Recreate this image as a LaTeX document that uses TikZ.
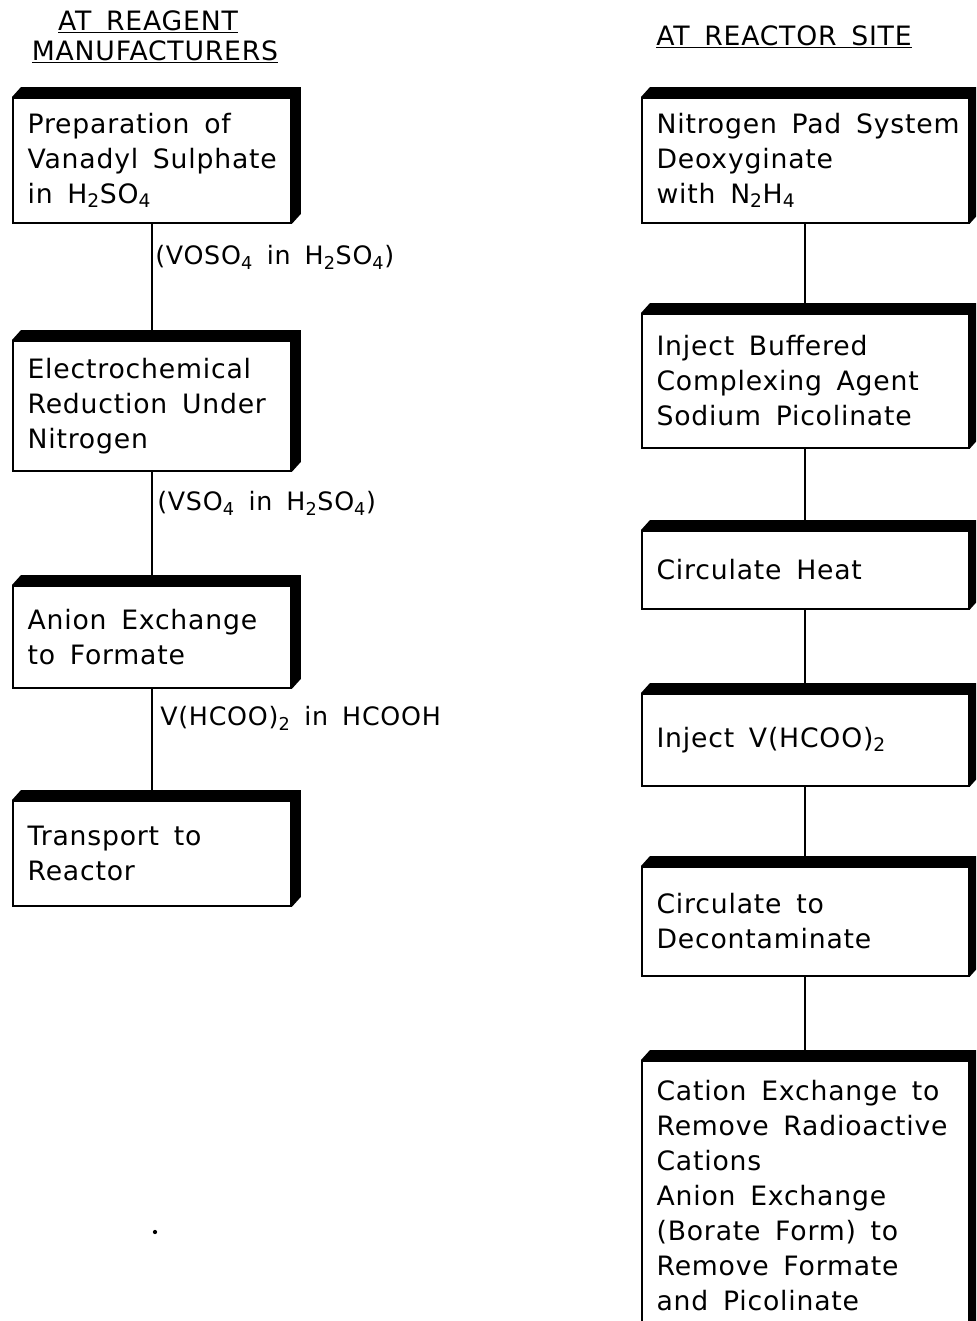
\documentclass[tikz,border=0pt]{standalone}
\usepackage{fontspec}
\setmainfont{DejaVu Sans}[LetterSpace=3]
\usetikzlibrary{positioning,calc}
\newcommand{\boxfont}{\fontsize{20}{26.25}\selectfont\spaceskip=0.55em plus 0.1em}
\newcommand{\notefont}{\fontsize{19}{26.25}\selectfont\spaceskip=0.55em plus 0.1em}

\begin{document}
\begin{tikzpicture}[x=0.75pt,y=-0.75pt,
  stage/.style={draw, line width=1.4pt, anchor=north west, align=left,
    inner xsep=11pt, font=\boxfont,
    execute at begin node={\spaceskip=0.55em plus 0.1em\hyphenpenalty=10000}},
  leftstage/.style={stage, text width=186.5pt},
  rightstage/.style={stage, text width=223pt},
  link/.style={line width=1.4pt},
  note/.style={anchor=west, inner sep=0pt, font=\notefont},
  head/.style={inner sep=0pt, font=\boxfont}]
\useasboundingbox (0,0) rectangle (976,1321);
\clip (0,0) rectangle (976,1321);

\node[head] (h1) at (148,22) {\underline{AT~REAGENT}};
\node[head] (h2) at (155,52) {\underline{MANUFACTURERS}};
\node[head] (h3) at (784,37) {\underline{AT~REACTOR~SITE}};

% reagent manufacturer side
\node[leftstage, minimum height=93.75pt] (l1) at (12,97)
  {Preparation~of\\Vanadyl~Sulphate\\in~H\textsubscript{2}SO\textsubscript{4}};
\node[leftstage, minimum height=97.5pt] (l2) at (12,340)
  {Electrochemical\\Reduction~Under\\Nitrogen};
\node[leftstage, minimum height=76.5pt] (l3) at (12,585)
  {Anion~Exchange\\to~Formate};
\node[leftstage, minimum height=78.75pt] (l4) at (12,800)
  {Transport~to\\Reactor};

% reactor site side
\node[rightstage, minimum height=93.75pt] (r1) at (641,97)
  {Nitrogen~Pad~System\\Deoxyginate\\with~N\textsubscript{2}H\textsubscript{4}};
\node[rightstage, minimum height=100.5pt] (r2) at (641,313)
  {Inject~Buffered\\Complexing~Agent\\Sodium~Picolinate};
\node[rightstage, minimum height=58.5pt] (r3) at (641,530)
  {Circulate~Heat};
\node[rightstage, minimum height=69pt] (r4) at (641,693)
  {Inject~V(HCOO)\textsubscript{2}};
\node[rightstage, minimum height=81.75pt] (r5) at (641,866)
  {Circulate~to\\Decontaminate};
\node[rightstage, minimum height=202.5pt] (r6) at (641,1060)
  {Cation~Exchange~to\\Remove~Radioactive\\Cations\\Anion~Exchange\\(Borate~Form)~to\\Remove~Formate\\and~Picolinate};

\foreach \b in {l1,l2,l3,l4,r1,r2,r3,r4,r5,r6}
  \fill (\b.north west) -- ++(9,-10) -- ($(\b.north east)+(9,-10)$)
    -- ($(\b.south east)+(9,-10)$) -- (\b.south east) -- (\b.north east) -- cycle;

\draw[link] (l1) -- (l2);
\draw[link] (l2) -- (l3);
\draw[link] (l3) -- (l4);
\draw[link] (r1) -- (r2);
\draw[link] (r2) -- (r3);
\draw[link] (r3) -- (r4);
\draw[link] (r4) -- (r5);
\draw[link] (r5) -- (r6);

\node[note] (n1) at (155,257) {(VOSO\textsubscript{4}~in~H\textsubscript{2}SO\textsubscript{4})};
\node[note] (n2) at (157,503) {(VSO\textsubscript{4}~in~H\textsubscript{2}SO\textsubscript{4})};
\node[note] (n3) at (160,718) {V(HCOO)\textsubscript{2}~in~HCOOH};

\fill (155,1232) circle (1.6pt);
\end{tikzpicture}
\end{document}
